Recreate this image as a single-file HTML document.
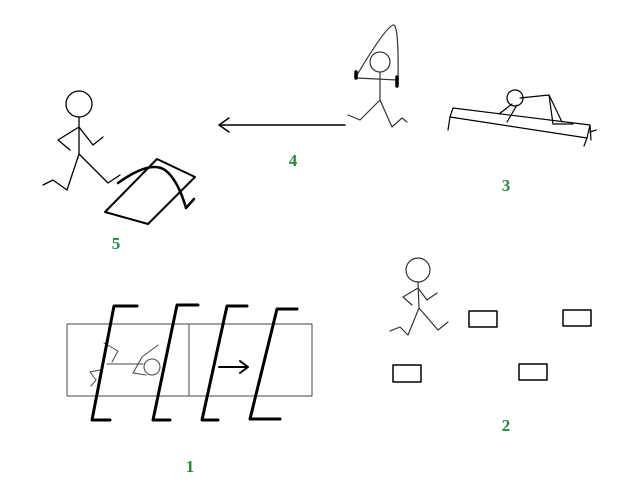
<!DOCTYPE html>
<html><head><style>html,body{margin:0;padding:0;background:#fff}svg{display:block}
text{font-family:"Liberation Serif",serif;font-weight:bold;font-size:17px;fill:#1f8a3c;stroke:none;text-anchor:middle}</style></head>
<body>
<svg width="626" height="491" viewBox="0 0 626 491" xmlns="http://www.w3.org/2000/svg" fill="none" stroke="#000" stroke-linecap="round" stroke-linejoin="round">
<!-- Station 5 -->
<g stroke-width="1.3">
<circle cx="79" cy="104" r="13"/>
<path d="M79,117 L79,154 M79,127 L58,140 L70,150 M79,127 L93,145 L103,137 M79,154 L67,190 L53,180 L43,185 M79,154 L108,183 L120,175"/>
</g>
<path d="M105,212 L148,224 L195,177 L157,159 Z" stroke-width="2"/>
<path d="M118,183 Q150,160 165,170 Q178,180 186,208 M186,208 L194,199" stroke-width="2.5"/>
<text x="116" y="249">5</text>
<!-- Arrow 4 -->
<path d="M345,125 L219,125 M219,125 L229,118 M219,125 L229,132" stroke-width="1.5"/>
<text x="293" y="166">4</text>
<!-- Station 4 figure -->
<g stroke="#333" stroke-width="1.2">
<path d="M357,75 Q385,28 393,25 Q399,23 398,82"/>
<circle cx="380" cy="62" r="10"/>
<path d="M357,78 L397,80 M380,72 L380,100 M380,100 L360,120 L348,115 M380,100 L392,127 L402,118 L407,122"/>
</g>
<path d="M356,72 L356,78 M397,77 L397,86" stroke-width="3.5"/>
<!-- Station 3 -->
<g stroke-width="1.2">
<path d="M453,108 L590,125 M450,117 L587,138 M453,108 L450,117 L448,130 M587,138 L590,125 L591,140 M587,138 L584,146 M590,132 L596,130"/>
<circle cx="515" cy="98" r="8"/>
<path d="M520,98 L549,95 L562,122 M549,95 L553,124 L573,124 M512,104 L499,114 M517,105 L507,122"/>
</g>
<text x="506" y="191">3</text>
<!-- Station 2 -->
<g stroke="#333" stroke-width="1.2">
<circle cx="418" cy="270" r="12"/>
<path d="M418,282 L419,308 M418,288 L403,297 L412,305 M418,288 L427,300 L437,293 M419,308 L408,335 L400,327 L390,331 M419,308 L438,330 L448,322"/>
</g>
<g stroke-width="1.5">
<rect x="469" y="311" width="28" height="16"/>
<rect x="563" y="310" width="28" height="16"/>
<rect x="393" y="365" width="28" height="17"/>
<rect x="519" y="364" width="28" height="16"/>
</g>
<text x="506" y="431">2</text>
<!-- Station 1 -->
<g stroke="#444" stroke-width="1">
<rect x="67" y="324" width="245" height="72"/>
<path d="M189,324 L189,396"/>
<path d="M107,364 L143,364 M104,343 L118,351 L112,362 M100,370 L90,372 L96,380 L91,386 M158,345 L142,357 L133,373 L146,375"/>
<circle cx="152" cy="367" r="8"/>
</g>
<g stroke-width="3">
<path d="M137,306 L114,306 L92,420 L110,420"/>
<path d="M198,305 L177,305 L153,420 L170,420"/>
<path d="M247,306 L227,306 L202,420 L218,420"/>
<path d="M297,309 L277,309 L250,419 L280,419"/>
</g>
<path d="M219,367 L248,367 M248,367 L240,361 M248,367 L240,373" stroke-width="2"/>
<text x="190" y="472">1</text>
</svg>
</body></html>
